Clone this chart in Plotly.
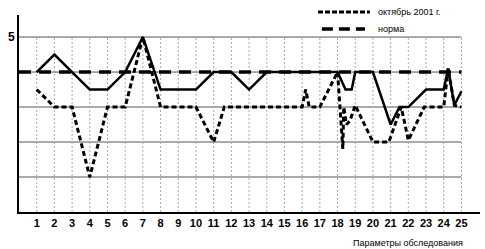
import plotly.graph_objects as go

# ---- data ----
x_ticks = list(range(1, 26))
tick_labels = [str(i) for i in x_ticks]

base_x = [1, 2, 3, 4, 5, 6, 7, 8, 9, 10, 11, 12, 13, 14, 15, 16, 17, 18,
          18.45, 18.8, 19, 20, 21, 21.5, 22, 23, 24, 24.25, 24.6, 25]
base_y = [4, 4.5, 4, 3.5, 3.5, 4, 5, 3.5, 3.5, 3.5, 4, 4, 3.5, 4, 4, 4, 4, 4,
          3.5, 3.5, 4, 4, 2.5, 3, 3, 3.5, 3.5, 4.1, 3.05, 3.45]

oct_x = [1, 2, 3, 4, 5, 6, 7, 8, 9, 10, 11, 11.6, 12, 13, 14, 15, 16, 16.2, 16.4,
         17, 18, 18.3, 18.35, 18.5, 18.7, 19, 20, 20.9, 21.6, 22, 22.9, 24, 24.25, 24.6, 25]
oct_y = [3.5, 3, 3, 1, 3, 3, 5, 3, 3, 3, 2, 3, 3, 3, 3, 3, 3, 3.5, 3,
         3, 4, 1.8, 3.0, 2.5, 2.6, 3.05, 2, 2, 3, 2.05, 3, 3, 4.1, 3.05, 3]

norm_x = [0, 25]
norm_y = [4, 4]

y_grid = [1, 2, 3, 4, 5]
y_tick_vals = [5]
y_tick_text = ["5"]

legend_names = ["октябрь 2001 г.", "норма"]

fig = go.Figure()

# grid as shapes (limited extent like the original)
shapes = []
for yv in y_grid:
    shapes.append(dict(type="line", xref="x", yref="y", x0=0, x1=25, y0=yv, y1=yv,
                       line=dict(color="#555555", width=1), layer="below"))
for xv in x_ticks:
    shapes.append(dict(type="line", xref="x", yref="y", x0=xv, x1=xv, y0=0, y1=5,
                       line=dict(color="#aaaaaa", width=1, dash="2px,2px"), layer="below"))

# hand-drawn legend keys (positioned like the original)
shapes.append(dict(type="line", xref="paper", yref="paper", x0=0.6486, x1=0.761, y0=1.015, y1=1.015,
                   line=dict(color="black", width=3, dash="5px,2px")))
shapes.append(dict(type="line", xref="paper", yref="paper", x0=0.657, x1=0.7505, y0=0.929, y1=0.929,
                   line=dict(color="black", width=3.5, dash="11px,6px")))

fig.add_trace(go.Scatter(x=norm_x, y=norm_y, mode="lines", name=legend_names[1],
                         line=dict(color="black", width=3.5, dash="12px,8px")))
fig.add_trace(go.Scatter(x=base_x, y=base_y, mode="lines", name="исходно",
                         line=dict(color="black", width=2.5)))
fig.add_trace(go.Scatter(x=oct_x, y=oct_y, mode="lines", name=legend_names[0],
                         line=dict(color="black", width=3, dash="5px,3px")))

annotations = [
    dict(text="Параметры обследования", xref="paper", yref="paper",
         x=0.967, y=-0.12, xanchor="right", yanchor="top", showarrow=False,
         font=dict(size=9)),
    dict(text=legend_names[0], xref="paper", yref="paper", x=0.774, y=1.015,
         xanchor="left", yanchor="middle", showarrow=False, font=dict(size=9)),
    dict(text=legend_names[1], xref="paper", yref="paper", x=0.774, y=0.929,
         xanchor="left", yanchor="middle", showarrow=False, font=dict(size=9)),
]

fig.update_layout(
    width=485, height=249,
    margin=dict(l=19, r=5, t=15, b=37),
    paper_bgcolor="white", plot_bgcolor="white",
    font=dict(family="Liberation Sans, Arial, sans-serif", color="black", size=9),
    shapes=shapes,
    showlegend=False,
    xaxis=dict(range=[0, 26.05], tickvals=x_ticks, ticktext=tick_labels, showgrid=False,
               zeroline=False, showline=True, linecolor="black", linewidth=2,
               ticks="", tickfont=dict(size=11, family="Liberation Sans, Arial", weight="bold")),
    yaxis=dict(range=[0, 5.63], tickvals=y_tick_vals, ticktext=y_tick_text, showgrid=False,
               zeroline=False, showline=True, linecolor="black", linewidth=2,
               ticks="", tickfont=dict(size=12, family="Liberation Sans, Arial", weight="bold")),
    annotations=annotations,
)

fig.write_html("out.html")
